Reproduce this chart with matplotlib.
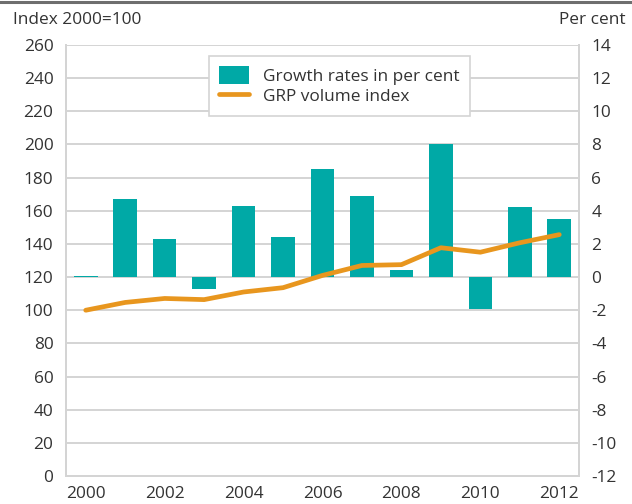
import matplotlib
matplotlib.use("Agg")
import matplotlib.pyplot as plt
from matplotlib.lines import Line2D
from matplotlib.patches import Patch
import numpy as np

plt.rcParams['font.family'] = ['Open Sans', 'DejaVu Sans']

years = [2000, 2001, 2002, 2003, 2004, 2005, 2006, 2007, 2008, 2009, 2010, 2011, 2012]
growth_pct = [0.06, 4.7, 2.3, -0.7, 4.3, 2.4, 6.5, 4.9, 0.4, 8.0, -1.9, 4.2, 3.5]
grp_index = [100.0, 104.7, 107.1, 106.4, 111.0, 113.6, 121.0, 127.0, 127.5, 137.7, 135.0, 140.7, 145.6]
year_labels = ["2000", "", "2002", "", "2004", "", "2006", "", "2008", "", "2010", "", "2012"]
left_ticks = list(range(0, 261, 20))
right_ticks = list(range(-12, 15, 2))

TEAL = "#00a9a6"
ORANGE = "#e8961e"
GRID = "#d4d4d4"
TEXT = "#333333"
FS = 12.4

fig = plt.figure(figsize=(6.32, 5.04), dpi=100)
ax = fig.add_axes([66 / 632, 1 - 476 / 504, 513 / 632, 431 / 504])
ax2 = ax.twinx()

x = np.arange(len(years))

# bars on the right-hand (per cent) axis, drawn underneath
ax2.set_zorder(1)
ax.set_zorder(2)
ax.patch.set_visible(False)
ax2.patch.set_facecolor("white")

ax2.bar(x, growth_pct, width=0.6, color=TEAL, zorder=3)
ax2.set_ylim(-12, 14)
ax2.set_yticks(right_ticks)
ax2.set_yticklabels([str(t) for t in right_ticks])
ax2.set_xticks(x - 0.5, minor=True)
ax2.grid(True, which="major", axis="y", color=GRID, linewidth=1.4, zorder=0)
ax2.grid(True, which="minor", axis="x", color=GRID, linewidth=1.4, zorder=0)
ax2.set_axisbelow(True)

# volume index line on the left-hand axis, drawn on top
ax.plot(x, grp_index, color=ORANGE, linewidth=3.4, solid_capstyle="round", zorder=4)
ax.set_ylim(0, 260)
ax.set_yticks(left_ticks)
ax.set_xlim(-0.5, len(years) - 0.5)
ax.set_xticks(x)
ax.set_xticklabels(year_labels)

for a in (ax, ax2):
    for s in a.spines.values():
        s.set_color(GRID)
        s.set_linewidth(1.4)
    a.spines["top"].set_visible(False)
    a.tick_params(axis="both", which="both", length=0, labelsize=FS, colors=TEXT, pad=9)
ax.tick_params(axis="x", pad=7)
ax2.tick_params(axis="x", which="both", length=0)

fig.text(13 / 632, 1 - 20 / 504, "Index 2000=100", fontsize=FS, color=TEXT, va="center", ha="left")
fig.text(626 / 632, 1 - 20 / 504, "Per cent", fontsize=FS, color=TEXT, va="center", ha="right")

handles = [Patch(facecolor=TEAL, edgecolor="none"),
           Line2D([0], [0], color=ORANGE, linewidth=3.4, solid_capstyle="round")]
labels = ["Growth rates in per cent", "GRP volume index"]
leg = ax.legend(handles, labels, loc="upper left",
                bbox_to_anchor=((209 - 66) / 513, (476 - 56) / 431),
                borderaxespad=0, fontsize=FS, frameon=True, fancybox=False,
                edgecolor=GRID, framealpha=1, handlelength=1.75, handleheight=1.2,
                handletextpad=0.8, labelspacing=0.1, borderpad=0.6)
leg.get_frame().set_linewidth(1.2)
for t in leg.get_texts():
    t.set_color(TEXT)

fig.add_artist(Line2D([0, 1], [1 - 1.5 / 504, 1 - 1.5 / 504], transform=fig.transFigure,
                      color="#6e6e6e", linewidth=2.2))

fig.savefig("out.png", dpi=100)
